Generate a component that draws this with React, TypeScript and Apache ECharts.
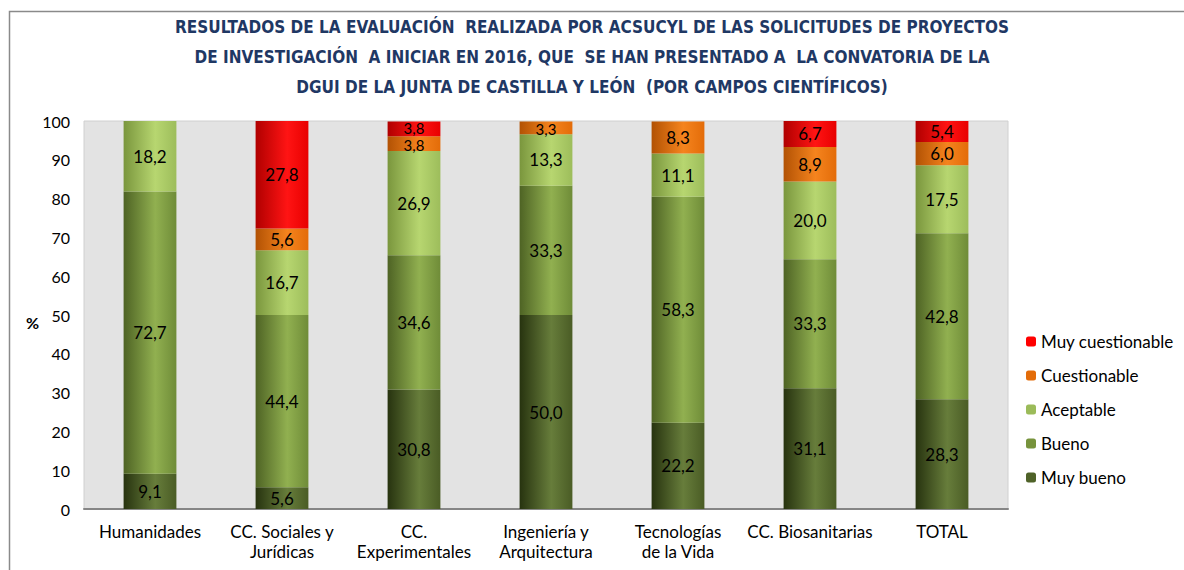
import React, { useEffect, useRef } from "react";
import * as echarts from "echarts";

const categories = [
  "Humanidades",
  "CC. Sociales y\nJurídicas",
  "CC.\nExperimentales",
  "Ingeniería y\nArquitectura",
  "Tecnologías\nde la Vida",
  "CC. Biosanitarias",
  "TOTAL",
];

const muyBueno = [9.1, 5.6, 30.8, 50.0, 22.2, 31.1, 28.3];
const bueno = [72.7, 44.4, 34.6, 33.3, 58.3, 33.3, 42.8];
const aceptable = [18.2, 16.7, 26.9, 13.3, 11.1, 20.0, 17.5];
const cuestionable = [0, 5.6, 3.8, 3.3, 8.3, 8.9, 6.0];
const muyCuestionable = [0, 27.8, 3.8, 0, 0, 6.7, 5.4];

const yTicks = [0, 10, 20, 30, 40, 50, 60, 70, 80, 90, 100];

const TITLE =
  "RESULTADOS DE LA EVALUACIÓN  REALIZADA POR ACSUCYL DE LAS SOLICITUDES DE PROYECTOS\nDE INVESTIGACIÓN  A INICIAR EN 2016, QUE  SE HAN PRESENTADO A  LA CONVATORIA DE LA\nDGUI DE LA JUNTA DE CASTILLA Y LEÓN  (POR CAMPOS CIENTÍFICOS)";

const FONT = "Lato, 'Open Sans', sans-serif";

function grad(left: string, mid: string, right: string) {
  return new echarts.graphic.LinearGradient(0, 0, 1, 0, [
    { offset: 0, color: left },
    { offset: 0.6, color: mid },
    { offset: 1, color: right },
  ]);
}

export default function App() {
  const ref = useRef<HTMLDivElement>(null);
  useEffect(() => {
    document.body.style.margin = "0";
    if (!ref.current) return;
    const chart = echarts.init(ref.current, undefined, { renderer: "svg" });
    const fmt = (p: any) =>
      p.value ? Number(p.value).toFixed(1).replace(".", ",") : "";
    // small stacked segments get a slightly smaller label so neighbours don't collide
    const toData = (data: number[], shift: number) =>
      data.map((v) =>
        v > 0 && v < 4
          ? { value: v, label: { fontSize: 15, lineHeight: 12, offset: [0, shift] } }
          : v
      );
    const mk = (name: string, data: number[], color: any, shift: number) => ({
      name,
      type: "bar",
      stack: "t",
      data: toData(data, shift),
      barWidth: "40%",
      itemStyle: { color },
      label: {
        show: true,
        position: "inside",
        formatter: fmt,
        color: "#000",
        fontFamily: FONT,
        fontSize: 17,
        lineHeight: 13,
      },
    });
    const series = [
      mk("Muy bueno", muyBueno, grad("#27330f", "#677d3b", "#4a5c25"), 0),
      mk("Bueno", bueno, grad("#4e6324", "#91b050", "#6f8c38"), 0),
      mk("Aceptable", aceptable, grad("#7a963d", "#b7d670", "#9dbd5b"), 0),
      mk("Cuestionable", cuestionable, grad("#b25204", "#f5841e", "#e36c09"), 1),
      mk("Muy cuestionable", muyCuestionable, grad("#b00000", "#ff1414", "#e80000"), -1),
    ];
    chart.setOption({
      animation: false,
      title: {
        text: TITLE,
        left: "center",
        top: 12,
        padding: 0,
        textStyle: {
          fontFamily: "'Liberation Sans Narrow', 'DejaVu Sans Condensed', sans-serif",
          fontWeight: "bold",
          fontSize: 17,
          lineHeight: 30,
          color: "#1f3864",
        },
      },
      legend: {
        orient: "vertical",
        left: 1021,
        top: 328,
        itemWidth: 10,
        itemHeight: 10,
        itemGap: 17,
        textStyle: { fontFamily: FONT, fontSize: 17, color: "#000" },
        data: [
          { name: "Muy cuestionable", itemStyle: { color: "#ff0000" } },
          { name: "Cuestionable", itemStyle: { color: "#e36c09" } },
          { name: "Aceptable", itemStyle: { color: "#9bbb59" } },
          { name: "Bueno", itemStyle: { color: "#77933c" } },
          { name: "Muy bueno", itemStyle: { color: "#4f6228" } },
        ],
      },
      grid: {
        left: 84,
        right: 176,
        top: 121,
        bottom: 61,
        show: true,
        backgroundColor: "#e3e3e3",
        borderColor: "#d0d0d0",
        borderWidth: 1,
      },
      xAxis: {
        type: "category",
        data: categories,
        axisTick: { show: false },
        axisLine: { lineStyle: { color: "#868686", width: 2 } },
        axisLabel: {
          fontFamily: FONT,
          fontSize: 17,
          color: "#000",
          lineHeight: 20,
          margin: 12,
          interval: 0,
        },
      },
      yAxis: {
        type: "value",
        min: yTicks[0],
        max: yTicks[yTicks.length - 1],
        interval: 10,
        axisLine: { show: false },
        axisTick: { show: false },
        axisLabel: {
          fontFamily: FONT,
          fontSize: 16,
          color: "#000",
          margin: 14,
        },
        splitLine: {
          lineStyle: {
            color: "#8c8c8c",
            width: 2,
            shadowColor: "rgba(0,0,0,0.25)",
            shadowBlur: 2,
            shadowOffsetY: 1,
          },
        },
      },
      graphic: [
        {
          type: "rect",
          shape: { x: 9.5, y: 11.5, width: 1300, height: 700 },
          style: { fill: "none", stroke: "#8a8a8a", lineWidth: 1.5 },
          silent: true,
        },
        {
          type: "text",
          left: 26,
          top: 314,
          style: {
            text: "%",
            fontFamily: FONT,
            fontSize: 16,
            fontWeight: "bold",
            fill: "#000",
          },
        },
      ],
      series,
    });
    return () => chart.dispose();
  }, []);
  return <div ref={ref} style={{ width: 1184, height: 570 }} />;
}
